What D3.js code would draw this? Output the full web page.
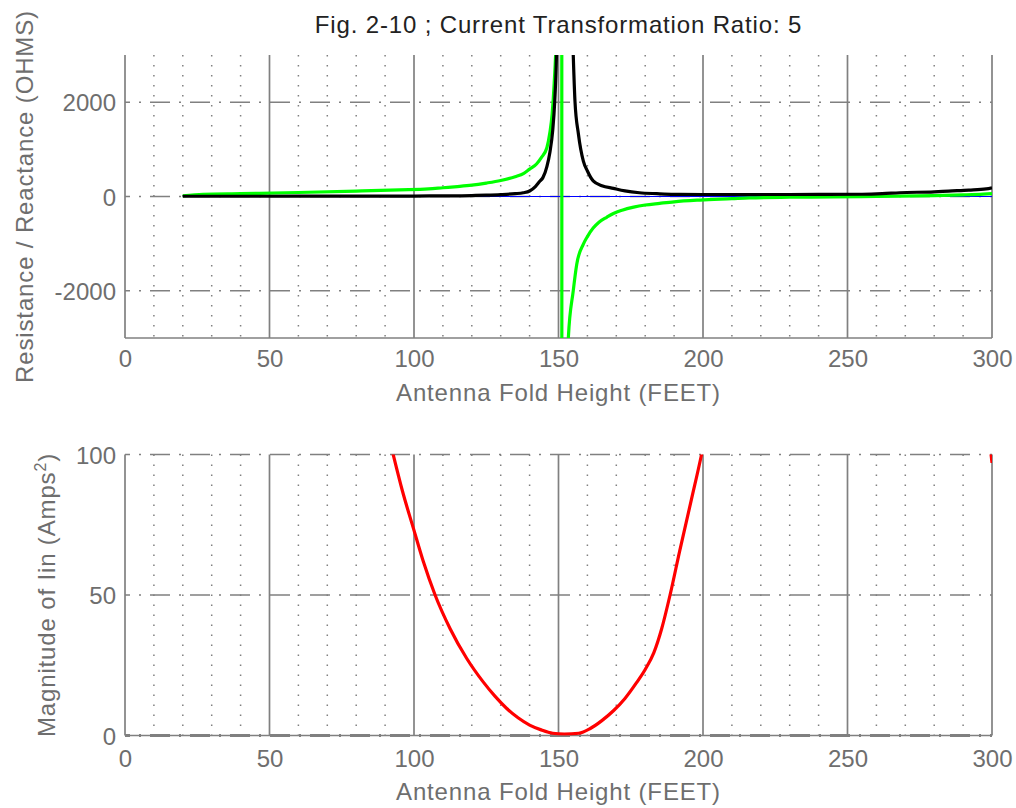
<!DOCTYPE html>
<html>
<head>
<meta charset="utf-8">
<script src="https://cdn.jsdelivr.net/npm/d3@7"></script>
<style>
  html, body { margin: 0; padding: 0; background: #fff; }
  svg { display: block; }
  text { font-family: "Liberation Sans", Arial, Helvetica, sans-serif; }
</style>
</head>
<body>
<svg id="chart" width="1016" height="808"></svg>
<script>
// ---------------- DATA ----------------
const titleText = "Fig. 2-10 ; Current Transformation Ratio: 5";
const xLabelText = "Antenna Fold Height (FEET)";
const topYLabelText = "Resistance / Reactance (OHMS)";
const botYLabelMain = "Magnitude of Iin (Amps";
const botYLabelSup = "2";

const xTicks = [0, 50, 100, 150, 200, 250, 300];
const xMinorTicks = [10,20,30,40,60,70,80,90,110,120,130,140,160,170,180,190,210,220,230,240,260,270,280,290];
const topYTicks = [-2000, 0, 2000];
const botYTicks = [0, 50, 100];

// Blue trace (zero reference), [feet, ohms]
const blueSeries = [[20, 0], [300, 0]];

// Green trace (reactance), [feet, ohms]
const greenSeries = [
  [20, 15], [27, 45], [40, 60], [60, 85], [80, 115], [95, 140], [105, 160], [110, 185],
  [115, 210], [120, 240], [125, 285], [130, 340], [135, 420], [138, 490], [140, 580],
  [142.4, 690], [144, 820], [146, 1040], [147, 1350], [147.8, 1750], [148.5, 2400],
  [149.3, 3600], [150.3, 8000], [151.0, 40000], [151.3, -40000], [152.3, -6000],
  [153.4, -3000], [155.1, -2000], [156.3, -1440], [158.6, -1010], [160, -850],
  [162, -670], [164, -545], [166.7, -440], [169, -360], [172, -290], [176, -225],
  [180, -180], [185, -145], [190, -112], [199, -75], [210, -45], [216, -28], [230, -16],
  [245, -10], [260, 3], [280, 20], [290, 35], [297, 50], [300, 60]
];

// Black trace (resistance), [feet, ohms]
const blackSeries = [
  [20, 5], [40, 5], [60, 6], [80, 8], [100, 10], [110, 13], [120, 20], [125, 28],
  [130, 40], [135, 60], [137.8, 80], [140, 116], [142, 210], [143.6, 328], [144.6, 400],
  [146, 640], [147, 930], [148, 1400], [148.7, 2020], [149.3, 3000], [150, 6000],
  [151, 15000], [152.5, 12000], [153.8, 6000], [155, 3200], [155.7, 2020],
  [156.9, 1320], [158.6, 750], [160, 540], [162, 330], [165, 230], [169, 173],
  [173, 120], [178, 80], [184, 60], [190, 46], [200, 42], [220, 42], [240, 44],
  [255, 48], [262, 60], [268, 80], [280, 100], [285, 116], [292, 135], [298, 160],
  [300, 185]
];

// Red trace (|Iin|^2), [feet, amps^2]
const redSeries = [
  [85, 140], [90, 112], [92.8, 100], [96, 87], [99.8, 73.7], [103.2, 62], [107.3, 50],
  [112.5, 38], [118.2, 27.5], [124, 19], [128, 14], [132, 9.7], [136, 6.3], [140, 3.7],
  [144, 2], [148, 0.8], [152, 0.5], [157, 0.8], [161, 2.5], [165, 5.3], [169, 8.8],
  [173, 13.2], [177, 18.8], [180, 23.5], [183, 29.5], [185.7, 38], [188.6, 50],
  [192, 66], [196, 84], [199.5, 100], [203, 118], [215, 180], [240, 300], [270, 280],
  [290, 180], [297, 125], [300, 97]
];

// ---------------- LAYOUT ----------------
const svg = d3.select("#chart");
const L = 125, R = 992;
const top1 = 55, bot1 = 338;
const top2 = 454.5, bot2 = 735.5;
const gridColor = "#808080";
const tickColor = "#6e6e6e";
const labelColor = "#6e6e6e";

const x = d3.scaleLinear().domain([0, 300]).range([L, R]);
const yTop = d3.scaleLinear().domain([-3000, 3000]).range([bot1, top1]);
const yBot = d3.scaleLinear().domain([0, 100]).range([bot2, top2]);

const defs = svg.append("defs");
defs.append("clipPath").attr("id", "clipTop").append("rect")
  .attr("x", L).attr("y", top1).attr("width", R - L).attr("height", bot1 - top1);
defs.append("clipPath").attr("id", "clipBot").append("rect")
  .attr("x", L).attr("y", top2).attr("width", R - L).attr("height", bot2 - top2);

function drawGrid(g, y, yTicks, yTopPx, yBotPx, isBottom) {
  g.selectAll(".minor").data(xMinorTicks).join("line")
    .attr("x1", d => x(d)).attr("x2", d => x(d))
    .attr("y1", yTopPx).attr("y2", yBotPx)
    .attr("stroke", gridColor).attr("stroke-width", 1.5)
    .attr("stroke-dasharray", "1.5,8.5");
  g.selectAll(".hgrid").data(yTicks).join("line")
    .attr("x1", L).attr("x2", R)
    .attr("y1", d => y(d)).attr("y2", d => y(d))
    .attr("stroke", gridColor)
    .attr("stroke-width", d => (isBottom && d === 0) ? 3 : 1.5)
    .attr("stroke-dasharray", "20,9,2,9")
    .attr("stroke-dashoffset", 15);
  g.selectAll(".major").data(xTicks).join("line")
    .attr("x1", d => x(d)).attr("x2", d => x(d))
    .attr("y1", yTopPx).attr("y2", yBotPx)
    .attr("stroke", gridColor).attr("stroke-width", 1.7);
  g.append("line")
    .attr("x1", L).attr("x2", R).attr("y1", yBotPx).attr("y2", yBotPx)
    .attr("stroke", gridColor).attr("stroke-width", 1.5);
}

function drawAxes(g, y, yTicks, bottomPx, xPad) {
  const fmt = d => String(d);
  const ax = g.append("g").attr("transform", `translate(0,${bottomPx})`)
    .call(d3.axisBottom(x).tickValues(xTicks).tickSize(0).tickPadding(xPad).tickFormat(fmt));
  ax.select(".domain").remove();
  ax.selectAll("text").attr("fill", tickColor).style("font-size", "24px");
  const ay = g.append("g").attr("transform", `translate(${L},0)`)
    .call(d3.axisLeft(y).tickValues(yTicks).tickSize(0).tickPadding(9).tickFormat(fmt));
  ay.select(".domain").remove();
  ay.selectAll("text").attr("fill", tickColor).style("font-size", "24px").attr("dy", "0.36em");
}

// ---------------- TOP PANEL ----------------
const gTop = svg.append("g");
drawGrid(gTop, yTop, topYTicks, top1, bot1, false);

const lineTop = d3.line().curve(d3.curveMonotoneX).x(d => x(d[0])).y(d => yTop(d[1]));
const traces = gTop.append("g").attr("clip-path", "url(#clipTop)");
traces.append("path").datum(blueSeries).attr("d", lineTop)
  .attr("fill", "none").attr("stroke", "#0000ff").attr("stroke-width", 1.2);
traces.append("path").datum(greenSeries).attr("d", lineTop)
  .attr("fill", "none").attr("stroke", "#00ff00").attr("stroke-width", 3.2)
  .attr("stroke-linejoin", "round");
traces.append("path").datum(blackSeries).attr("d", lineTop)
  .attr("fill", "none").attr("stroke", "#000000").attr("stroke-width", 3.2)
  .attr("stroke-linejoin", "round");

drawAxes(gTop, yTop, topYTicks, bot1, 12);

// ---------------- BOTTOM PANEL ----------------
const gBot = svg.append("g");
drawGrid(gBot, yBot, botYTicks, top2, bot2, true);

const lineBot = d3.line().curve(d3.curveMonotoneX).x(d => x(d[0])).y(d => yBot(d[1]));
gBot.append("g").attr("clip-path", "url(#clipBot)")
  .append("path").datum(redSeries).attr("d", lineBot)
  .attr("fill", "none").attr("stroke", "#ff0000").attr("stroke-width", 3.2)
  .attr("stroke-linejoin", "round");

drawAxes(gBot, yBot, botYTicks, bot2, 14);

// ---------------- TEXT ----------------
const cx = (L + R) / 2;
svg.append("text").attr("x", cx).attr("y", 33)
  .attr("text-anchor", "middle").attr("fill", "#222")
  .style("font-size", "24px").style("letter-spacing", "0.85px")
  .text(titleText);

svg.append("text").attr("x", cx).attr("y", 401)
  .attr("text-anchor", "middle").attr("fill", labelColor)
  .style("font-size", "24px").style("letter-spacing", "0.85px")
  .text(xLabelText);

svg.append("text").attr("x", cx).attr("y", 800)
  .attr("text-anchor", "middle").attr("fill", labelColor)
  .style("font-size", "24px").style("letter-spacing", "0.85px")
  .text(xLabelText);

svg.append("text")
  .attr("transform", `translate(33,${(top1 + bot1) / 2}) rotate(-90)`)
  .attr("text-anchor", "middle").attr("fill", labelColor)
  .style("font-size", "24px").style("letter-spacing", "0.85px")
  .text(topYLabelText);

const yl2 = svg.append("text")
  .attr("transform", `translate(55,${(top2 + bot2) / 2}) rotate(-90)`)
  .attr("text-anchor", "middle").attr("fill", labelColor)
  .style("font-size", "24px").style("letter-spacing", "0.85px");
yl2.append("tspan").text(botYLabelMain);
yl2.append("tspan").attr("dy", -9).style("font-size", "16px").text(botYLabelSup);
yl2.append("tspan").attr("dy", 9).text(")");
</script>
</body>
</html>
